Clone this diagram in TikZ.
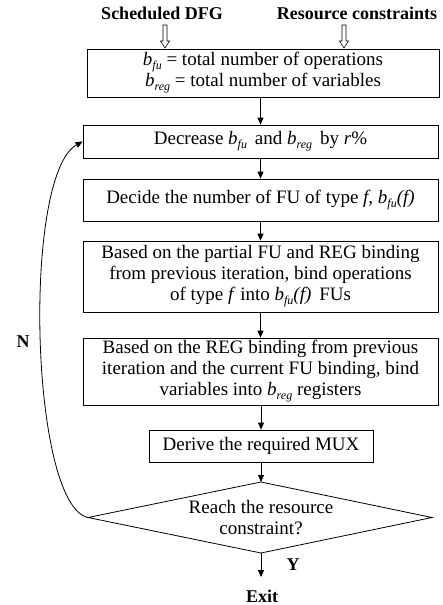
\documentclass[tikz,border=0pt]{standalone}
\usepackage{fontspec}
\setmainfont{Liberation Serif}
\usetikzlibrary{shapes.geometric,arrows.meta,calc}
\newcommand\bvar[1]{\textit{b}\raisebox{-0.45ex}{\fontsize{12}{12}\selectfont\textit{#1}}}
\tikzset{
  txt/.style={font=\fontsize{19}{21}\selectfont, align=center, inner sep=0pt},
  procbox/.style={draw, line width=0.8pt, txt},
  conn/.style={line width=0.8pt, -{Triangle[length=7pt,width=6pt]}},
  hollow/.style={draw, line width=0.6pt, fill=white},
  lbl/.style={font=\fontsize{18}{20}\selectfont\bfseries, inner sep=0pt}
}
\begin{document}
\begin{tikzpicture}[x=1pt,y=-1pt]
\useasboundingbox (0,0) rectangle (442,605);
% inputs
\node[lbl] (dfg) at (162,13) {Scheduled DFG};
\node[lbl] (rc) at (357,13) {Resource constraints};
% boxes
\node[procbox, minimum width=352pt, minimum height=48pt] (b1) at (263,73)
  {\bvar{fu} = total number of operations\\ \bvar{reg} = total number of variables};
\node[procbox, minimum width=355pt, minimum height=33pt] (b2) at (260.5,141.5)
  {Decrease \bvar{fu}\, and \bvar{reg}\, by \textit{r}\%};
\node[procbox, minimum width=355pt, minimum height=42pt] (b3) at (260.5,200)
  {Decide the number of FU of type \textit{f}, \bvar{fu}\textit{(f)}};
\node[procbox, minimum width=355pt, minimum height=71pt] (b4) at (260.5,276.5)
  {Based on the partial FU and REG binding\\ from previous iteration, bind operations\\ of type \textit{f} into \bvar{fu}\textit{(f)}\, FUs};
\node[procbox, minimum width=355pt, minimum height=67pt] (b5) at (260.5,371.5)
  {Based on the REG binding from previous\\ iteration and the current FU binding, bind\\ variables into \bvar{reg} registers};
\node[procbox, minimum width=224pt, minimum height=32pt] (b6) at (261,446)
  {Derive the required MUX};
% decision diamond
\coordinate (dN) at (261,482);
\coordinate (dS) at (261,553);
\coordinate (dW) at (88,517.5);
\coordinate (dE) at (432,517.5);
\draw[line width=0.8pt] (dN) -- (dE) -- (dS) -- (dW) -- cycle;
\node[txt] (d) at (261,518) {Reach the resource\\ constraint?};
% hollow arrows
\coordinate (h1) at (165,25);
\coordinate (h2) at (344,25);
\foreach \h in {h1,h2}{
  \path[hollow] ($(\h)+(-2,0)$) -- ++(4,0) -- ++(0,16) -- ++(2.5,0) -- ($(\h)+(0,23)$) -- ++(-4.5,-7) -- ++(2.5,0) -- cycle;
}
% connectors
\draw[conn] (b1.south -| b2.north) -- (b2.north);
\draw[conn] (b2) -- (b3);
\draw[conn] (b3) -- (b4);
\draw[conn] (b4) -- (b5);
\draw[conn] (b5.south -| b6.north) -- (b6.north);
\draw[conn] (b6.south -| dN) -- (dN);
\coordinate (exitpt) at (261,577);
\draw[conn] (dS) -- (exitpt);
\node[lbl] (exit) at (262,596) {Exit};
\node[lbl] (y) at (293,565) {Y};
\draw[conn] (dW) .. controls (30,505) and (22,175) .. (b2.west);
\node[lbl] (n) at (23,342) {N};
\end{tikzpicture}
\end{document}
